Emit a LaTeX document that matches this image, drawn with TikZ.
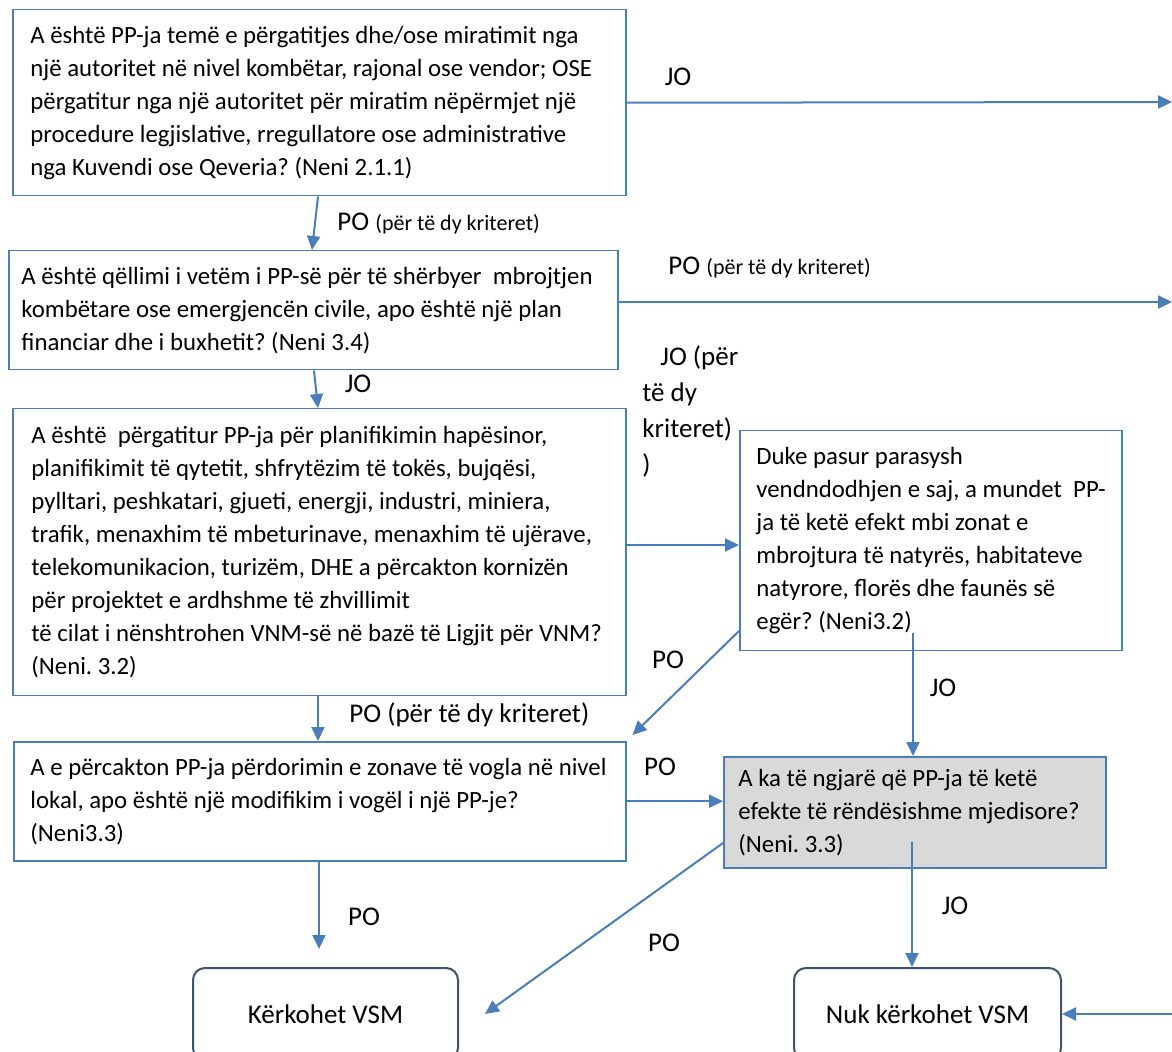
\documentclass[tikz,border=0pt]{standalone}
\usepackage{fontspec}
\setmainfont{Carlito}
\usepackage{xcolor}
\usepackage{tikz}
\usetikzlibrary{shapes,arrows,positioning,calc,arrows.meta}

\definecolor{flowblue}{RGB}{74,126,187}
\definecolor{flowgray}{RGB}{217,217,217}
\definecolor{verdictline}{RGB}{62,82,112}

\tikzset{
    question/.style={
        draw=flowblue,
        line width=0.75pt,
        anchor=north west,
        inner sep=0pt
    },
    qtext/.style={
        anchor=west,
        align=left,
        inner sep=0pt,
        font=\fontsize{12.4pt}{16.5pt}\selectfont
    },
    verdict/.style={
        draw=verdictline,
        line width=1pt,
        rounded corners=6pt,
        minimum height=46pt,
        font=\fontsize{13.5pt}{16pt}\selectfont
    },
    flow/.style={
        draw=flowblue,
        line width=1pt,
        -{Triangle[length=7pt,width=6.5pt]}
    },
    answer/.style={
        inner sep=0pt,
        font=\fontsize{13.5pt}{18pt}\selectfont
    }
}
\newcommand{\crit}{\fontsize{11pt}{13pt}\selectfont}

\begin{document}
\frenchspacing
\begin{tikzpicture}[x=0.5pt,y=-0.5pt]
    \clip (0,0) rectangle (1172,1052);
    \fill[white] (0,0) rectangle (1172,1052);

    \node[question, minimum width=306.5pt, minimum height=93pt,
        label={[qtext, xshift=9pt, name=qplantext]west:{
        A është PP-ja temë e përgatitjes dhe/ose miratimit nga\\
        një autoritet në nivel kombëtar, rajonal ose vendor; OSE\\
        përgatitur nga një autoritet për miratim nëpërmjet një\\
        procedure legjislative, rregullatore ose administrative\\
        nga Kuvendi ose Qeveria? (Neni 2.1.1)}}] (qplan) at (12,9) {};
    \node[question, minimum width=304.5pt, minimum height=59.5pt,
        label={[qtext, xshift=6.5pt, name=qdefencetext]west:{
        A është qëllimi i vetëm i PP-së për të shërbyer\ \ mbrojtjen\\
        kombëtare ose emergjencën civile, apo është një plan\\
        financiar dhe i buxhetit? (Neni 3.4)}}] (qdefence) at (8,250) {};
    \node[question, minimum width=306.5pt, minimum height=143.5pt,
        label={[qtext, xshift=9.5pt, name=qsectortext]west:{
        A është\ \ përgatitur PP-ja për planifikimin hapësinor,\\
        planifikimit të qytetit, shfrytëzim të tokës, bujqësi,\\
        pylltari, peshkatari, gjueti, energji, industri, miniera,\\
        trafik, menaxhim të mbeturinave, menaxhim të ujërave,\\
        telekomunikacion, turizëm, DHE a përcakton kornizën\\
        për projektet e ardhshme të zhvillimit\\
        të cilat i nënshtrohen VNM-së në bazë të Ligjit për VNM?\\
        (Neni. 3.2)}}] (qsector) at (12,408) {};
    \node[question, minimum width=191pt, minimum height=110pt,
        label={[qtext, xshift=8.5pt, name=qnaturetext]west:{
        Duke pasur parasysh\\
        vendndodhjen e saj, a mundet\ \ PP-\\
        ja të ketë efekt mbi zonat e\\
        mbrojtura të natyrës, habitateve\\
        natyrore, florës dhe faunës së\\
        egër? (Neni3.2)}}] (qnature) at (739,430) {};
    \node[question, minimum width=306pt, minimum height=59.5pt,
        label={[qtext, xshift=8.5pt, name=qlocaltext]west:{
        A e përcakton PP-ja përdorimin e zonave të vogla në nivel\\
        lokal, apo është një modifikim i vogël i një PP-je?\\
        (Neni3.3)}}] (qlocal) at (13,741) {};
    \node[question, fill=flowgray, minimum width=191pt, minimum height=55.5pt,
        label={[qtext, xshift=7.5pt, name=qeffectstext]west:{
        A ka të ngjarë që PP-ja të ketë\\
        efekte të rëndësishme mjedisore?\\
        (Neni. 3.3)}}] (qeffects) at (723,756) {};

    \node[verdict, minimum width=132.5pt] (yesvsm) at (325.5,1014) {Kërkohet VSM};
    \node[verdict, minimum width=133.5pt] (novsm) at (927.5,1014) {Nuk kërkohet VSM};

    \coordinate (planout) at (1172,102);
    \coordinate (defout) at (1172,302);
    \coordinate (backin) at (1172,1014);

    \draw[flow] (qplan.east) -- (planout);
    \draw[flow] (318,0 |- qplan.south) -- (312,0 |- qdefence.north);
    \draw[flow] (qdefence.east |- defout) -- (defout);
    \draw[flow] (314,0 |- qdefence.south) -- (318,0 |- qsector.north);
    \draw[flow] (qsector.east |- 0,545) -- (qnature.west |- 0,545);
    \draw[flow] (qnature.west |- 0,631) -- ([shift={(6,-6)}]qlocal.north east);
    \draw[flow] (318,0 |- qsector.south) -- (318,0 |- qlocal.north);
    \draw[flow, shorten <=-9pt] (913,0 |- qnature.south) -- (913,0 |- qeffects.north);
    \draw[flow] (qlocal.east) -- (qlocal.east -| qeffects.west);
    \draw[flow] (qeffects.west |- 0,843) -- ([xshift=13pt]yesvsm.east);
    \draw[flow, shorten <=-13.5pt] (912,0 |- qeffects.south) -- (912,0 |- novsm.north);
    \draw[flow, shorten >=9pt] (319,0 |- qlocal.south) -- (319,0 |- yesvsm.north);
    \draw[flow] (backin) -- (novsm.east);

    \node[answer] (lbltopjo) at (678,77) {JO};
    \node[answer, anchor=west] (lblplanpo) at (337,224) {PO {\crit(për të dy kriteret)}};
    \node[answer, anchor=west] (lbldefpo) at (668,268) {PO {\crit(për të dy kriteret)}};
    \node[answer] (lbldefjo) at (358,384) {JO};
    \node[answer, anchor=north west, align=left] (lblsectorjo) at (642,345) {\hspace{9pt}JO (për\\të dy\\kriteret)\\)};
    \node[answer] (lblnaturepo) at (668,660) {PO};
    \node[answer] (lblnaturejo) at (943,688) {JO};
    \node[answer, anchor=west] (lblsectorpo) at (349,715) {PO (për të dy kriteret)};
    \node[answer] (lbllocalpo) at (660,767) {PO};
    \node[answer] (lblyespo) at (364,917) {PO};
    \node[answer] (lbleffpo) at (664,943) {PO};
    \node[answer] (lblnojo) at (955,906) {JO};
\end{tikzpicture}
\end{document}
